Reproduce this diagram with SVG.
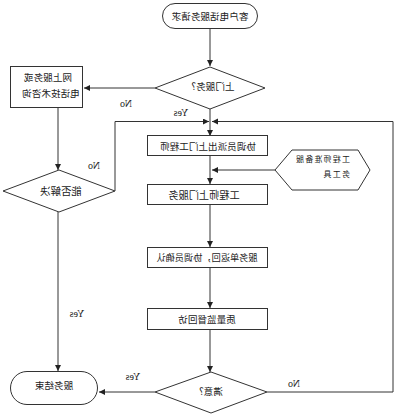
<svg xmlns="http://www.w3.org/2000/svg" width="400" height="416" viewBox="0 0 400 416">
<style>
.s{fill:#fff;stroke:#333;stroke-width:1}
.c{fill:none;stroke:#333;stroke-width:1}
.t{font-family:"Noto Sans CJK SC","Noto Sans CJK JP",sans-serif;font-size:9.6px;fill:#222;text-anchor:middle;dominant-baseline:central}
.l{font-family:"Liberation Serif",serif;font-size:10px;fill:#222;text-anchor:middle;dominant-baseline:central}
</style>
<defs>
<marker id="a" markerUnits="userSpaceOnUse" markerWidth="8" markerHeight="8" refX="6" refY="3" orient="auto">
<path d="M0,0 L6,3 L0,6 z" fill="#222"/>
</marker>
</defs>
<rect width="400" height="416" fill="#fff"/>
<g id="connectors">
<path class="c" d="M210,29 V66" marker-end="url(#a)"/>
<path class="c" d="M155,88 H84" marker-end="url(#a)"/>
<path class="c" d="M210,109 V136" marker-end="url(#a)"/>
<path class="c" d="M115,191 V121.5 H209" marker-end="url(#a)"/>
<path class="c" d="M267,392 H393 V121.5 H212" marker-end="url(#a)"/>
<path class="c" d="M210,156 V184" marker-end="url(#a)"/>
<path class="c" d="M275,170 H212" marker-end="url(#a)"/>
<path class="c" d="M210,205 V247" marker-end="url(#a)"/>
<path class="c" d="M210,267 V308" marker-end="url(#a)"/>
<path class="c" d="M210,330 V372" marker-end="url(#a)"/>
<path class="c" d="M155,392 H99" marker-end="url(#a)"/>
<path class="c" d="M58,108 V170" marker-end="url(#a)"/>
<path class="c" d="M58,212 V371" marker-end="url(#a)"/>
<text class="l" transform="translate(126,103) scale(-1,1)">No</text>
<text class="l" transform="translate(181,112) scale(-1,1)">Yes</text>
<text class="l" transform="translate(94,165) scale(-1,1)">No</text>
<text class="l" transform="translate(77,313) scale(-1,1)">Yes</text>
<text class="l" transform="translate(133,376) scale(-1,1)">Yes</text>
<text class="l" transform="translate(294,383) scale(-1,1)">No</text>
</g>
<g id="start">
<rect class="s" x="162.5" y="3.5" width="95" height="25" rx="12.5"/>
<text class="t" transform="translate(210,16) scale(-1,1)">客户电话服务请求</text>
</g>
<g id="onsite">
<polygon class="s" points="210,67 265,88 210,109 155,88"/>
<text class="t" transform="translate(213,86) scale(-1,1)">上门服务?</text>
</g>
<g id="online">
<rect class="s" x="10.5" y="66.5" width="72" height="41"/>
<text class="t" transform="translate(48,77) scale(-1,1)">网上服务或</text>
<text class="t" transform="translate(51,93) scale(-1,1)">电话技术咨询</text>
</g>
<g id="solved">
<polygon class="s" points="59,170 115,191 59,212 3,191"/>
<text class="t" transform="translate(61,190) scale(-1,1)" style="font-size:10.4px">能否解决</text>
</g>
<g id="dispatch">
<rect class="s" x="147.5" y="135.5" width="120" height="20"/>
<text class="t" transform="translate(208,145.5) scale(-1,1)">协调员派出上门工程师</text>
</g>
<g id="prepare">
<polygon class="s" points="275,170 292,150 358,150 370,170 358,190 292,190"/>
<text class="t" transform="translate(350,158) scale(-1,1)" style="font-size:8px;letter-spacing:1.2px;text-anchor:start">工程师准备服</text>
<text class="t" transform="translate(350,173) scale(-1,1)" style="font-size:8px;letter-spacing:1.2px;text-anchor:start">务工具</text>
</g>
<g id="service">
<rect class="s" x="147.5" y="184.5" width="120" height="20"/>
<text class="t" transform="translate(204,194) scale(-1,1)" style="font-size:10.2px">工程师上门服务</text>
</g>
<g id="confirm">
<rect class="s" x="147.5" y="247.5" width="120" height="20"/>
<text class="t" transform="translate(207,257) scale(-1,1)" style="font-size:9.2px">服务单返回，协调员确认</text>
</g>
<g id="quality">
<rect class="s" x="147.5" y="308.5" width="120" height="21"/>
<text class="t" transform="translate(207,319) scale(-1,1)">质量监督回访</text>
</g>
<g id="satisfied">
<polygon class="s" points="211,372 267,392 211,413 155,392"/>
<text class="t" transform="translate(211,391) scale(-1,1)">满意?</text>
</g>
<g id="end">
<rect class="s" x="10.5" y="371.5" width="87" height="33" rx="16.5"/>
<text class="t" transform="translate(54,385) scale(-1,1)">服务结束</text>
</g>
</svg>
